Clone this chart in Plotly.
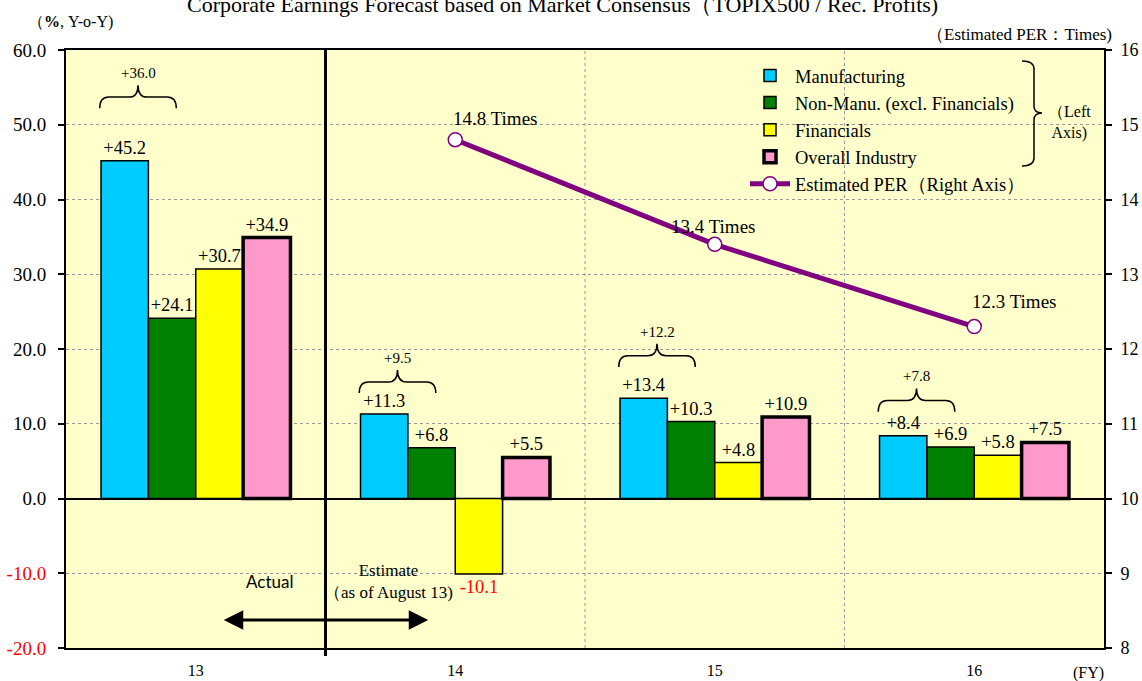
import plotly.graph_objects as go

# ---------------- data ----------------
categories = ["13", "14", "15", "16"]
manufacturing = [45.2, 11.3, 13.4, 8.4]
non_manu = [24.1, 6.8, 10.3, 6.9]
financials = [30.7, -10.1, 4.8, 5.8]
overall = [34.9, 5.5, 10.9, 7.5]
per_values = [None, 14.8, 13.4, 12.3]
bracket_labels = ["+36.0", "+9.5", "+12.2", "+7.8"]
left_ticks = [-20, -10, 0, 10, 20, 30, 40, 50, 60]
right_ticks = [8, 9, 10, 11, 12, 13, 14, 15, 16]

# ---------------- layout constants ----------------
W, H = 1142, 681
ML, MR, MT, MB = 66, 38, 50, 33
PW, PH = W - ML - MR, H - MT - MB
SERIF = "Liberation Serif, Times New Roman, serif"
bracket_base = [52.2, 14.1, 17.6, 11.6]  # y (left axis) of brace feet


def px(xp):
    return (xp - ML) / PW


def py(yp):
    return (H - MB - yp) / PH


def fmt(v):
    return f"+{v:.1f}" if v >= 0 else f"{v:.1f}"


xs = list(range(len(categories)))

fig = go.Figure()

series = [
    ("Manufacturing", manufacturing, "#00CCFF", 1.5),
    ("Non-Manu. (excl. Financials)", non_manu, "#008000", 1.5),
    ("Financials", financials, "#FFFF00", 1.5),
    ("Overall Industry", overall, "#FF99CC", 3.5),
]
for name, vals, col, lw in series:
    fig.add_trace(go.Bar(
        x=xs, y=vals, name=name,
        marker=dict(color=col, line=dict(color="black", width=lw)),
        text=[fmt(v) for v in vals], textposition="outside",
        textfont=dict(family=SERIF, size=18.5,
                      color=["red" if v < 0 else "black" for v in vals]),
        cliponaxis=False, constraintext="none",
        yaxis="y",
    ))

fig.add_trace(go.Scatter(
    x=xs, y=per_values, name="Estimated PER（Right Axis）",
    mode="lines+markers", yaxis="y2",
    line=dict(color="#800080", width=5),
    marker=dict(symbol="circle", size=14, color="white",
                line=dict(color="#800080", width=1.5)),
))

shapes = []
annotations = []

# vertical dotted separators between categories
for b in [1.5, 2.5]:
    shapes.append(dict(type="line", xref="x", yref="paper", x0=b, x1=b, y0=0, y1=1,
                       line=dict(color="#999999", width=1, dash="dot"), layer="below"))
# thick actual/estimate divider
xdiv = 1 / 4
shapes.append(dict(type="line", xref="paper", yref="paper", x0=xdiv, x1=xdiv,
                   y0=py(656), y1=1, line=dict(color="black", width=3)))

# braces over Manufacturing + Non-Manu.
for i, lab in enumerate(bracket_labels):
    xl, xr = i - 0.37, i - 0.075
    xm = (xl + xr) / 2
    d = 0.035
    yb = bracket_base[i]
    yt = yb + 1.5
    ytip = yt + 1.6
    path = (f"M {xl},{yb} Q {xl},{yt} {xl + d},{yt} L {xm - d},{yt} "
            f"Q {xm},{yt} {xm},{ytip} Q {xm},{yt} {xm + d},{yt} "
            f"L {xr - d},{yt} Q {xr},{yt} {xr},{yb}")
    shapes.append(dict(type="path", xref="x", yref="y", path=path,
                       line=dict(color="black", width=1.5)))
    annotations.append(dict(x=xm, y=ytip + 0.3, xref="x", yref="y", text=lab,
                            showarrow=False, yanchor="bottom", xanchor="center",
                            font=dict(family=SERIF, size=15, color="black")))

# PER labels (pixel offsets from the point)
per_offsets = [None, (40, 21), (-2, 18), (40, 25)]
for i, v in enumerate(per_values):
    if v is None:
        continue
    annotations.append(dict(x=i, y=v, xref="x", yref="y2", text=f"{v} Times",
                            showarrow=False, xshift=per_offsets[i][0], xanchor="center",
                            yanchor="middle", yshift=per_offsets[i][1],
                            font=dict(family=SERIF, size=19, color="black")))

# actual / estimate arrow and labels
annotations.append(dict(x=0.896, y=-16.25, ax=0.102, ay=-16.25, xref="x", yref="y",
                        axref="x", ayref="y", text="", showarrow=True,
                        arrowhead=2, startarrowhead=2, arrowside="end+start",
                        arrowsize=1.3, startarrowsize=1.3, arrowwidth=3, arrowcolor="black"))
annotations.append(dict(x=px(269), y=py(581), xref="paper", yref="paper", text="Actual",
                        showarrow=False, xanchor="center", yanchor="middle",
                        font=dict(family="Lato, Liberation Sans, sans-serif", size=17, color="black")))
annotations.append(dict(x=px(388), y=py(581), xref="paper", yref="paper",
                        text="Estimate<br>（as of August 13)", showarrow=False,
                        xanchor="center", yanchor="middle",
                        font=dict(family=SERIF, size=17, color="black")))

# titles and axis captions
annotations.append(dict(x=px(562), y=py(5), xref="paper", yref="paper",
                        text="Corporate Earnings Forecast based on Market Consensus（TOPIX500 / Rec. Profits)",
                        showarrow=False, yanchor="middle", xanchor="center",
                        font=dict(family=SERIF, size=22, color="black")))
annotations.append(dict(x=px(70), y=py(22), xref="paper", yref="paper",
                        text="（<b>%</b>, Y-o-Y)", showarrow=False,
                        xanchor="center", yanchor="middle",
                        font=dict(family=SERIF, size=16, color="black")))
annotations.append(dict(x=px(1114), y=py(35), xref="paper", yref="paper",
                        text="（Estimated PER：Times)", showarrow=False,
                        xanchor="right", yanchor="middle",
                        font=dict(family=SERIF, size=17, color="black")))
annotations.append(dict(x=px(1088), y=py(673), xref="paper", yref="paper",
                        text="(FY)", showarrow=False, xanchor="center", yanchor="middle",
                        font=dict(family=SERIF, size=16, color="black")))

# legend brace and caption
lx0, lx1, ltip = 1022, 1034, 1042
ly0, ly1 = 61, 166
lym = 113
bp = (f"M {px(lx0)},{py(ly0)} Q {px(lx1)},{py(ly0)} {px(lx1)},{py(ly0 + 8)} "
      f"L {px(lx1)},{py(lym - 7)} Q {px(lx1)},{py(lym)} {px(ltip)},{py(lym)} "
      f"Q {px(lx1)},{py(lym)} {px(lx1)},{py(lym + 7)} "
      f"L {px(lx1)},{py(ly1 - 8)} Q {px(lx1)},{py(ly1)} {px(lx0)},{py(ly1)}")
shapes.append(dict(type="path", xref="paper", yref="paper", path=bp,
                   line=dict(color="black", width=1.5)))
annotations.append(dict(x=px(1069), y=py(122), xref="paper", yref="paper",
                        text="（Left<br>Axis)", showarrow=False,
                        xanchor="center", yanchor="middle",
                        font=dict(family=SERIF, size=16, color="black")))

left_text = [(f"<span style='color:red'>{t:.1f}</span>" if t < 0 else f"{t:.1f}")
             for t in left_ticks]

fig.update_layout(
    width=W, height=H,
    margin=dict(l=ML, r=MR, t=MT, b=MB, autoexpand=False),
    paper_bgcolor="white", plot_bgcolor="#FFFFCC",
    barmode="group", bargap=0.27, bargroupgap=0,
    font=dict(family=SERIF, size=16, color="black"),
    showlegend=True,
    legend=dict(x=px(745), y=py(57), xanchor="left", yanchor="top",
                bgcolor="rgba(0,0,0,0)", font=dict(family=SERIF, size=18.5),
                traceorder="normal", itemwidth=40, tracegroupgap=0),
    xaxis=dict(range=[-0.5, 3.5], tickvals=xs, ticktext=categories,
               showgrid=False, zeroline=False, showline=True, mirror=True,
               linecolor="black", linewidth=2, ticks="",
               tickfont=dict(family=SERIF, size=16), ticklabelstandoff=7),
    yaxis=dict(range=[-20, 60], tickvals=left_ticks, ticktext=left_text,
               showgrid=True, gridcolor="#999999", griddash="dot", gridwidth=1,
               zeroline=True, zerolinecolor="black", zerolinewidth=1.5,
               showline=True, linecolor="black", linewidth=2,
               ticks="outside", ticklen=6, tickcolor="black", tickwidth=2,
               ticklabelstandoff=8,
               tickfont=dict(family=SERIF, size=19)),
    yaxis2=dict(range=[8, 16], tickvals=right_ticks, overlaying="y", side="right",
                showgrid=False, zeroline=False, showline=True, linecolor="black",
                linewidth=2, ticks="outside", ticklen=6, tickcolor="black", tickwidth=2,
                ticklabelstandoff=5,
                tickfont=dict(family=SERIF, size=18)),
    shapes=shapes, annotations=annotations,
)

fig.write_html("out.html", config={"displayModeBar": False},
               post_script="document.body.style.margin='0px';")
